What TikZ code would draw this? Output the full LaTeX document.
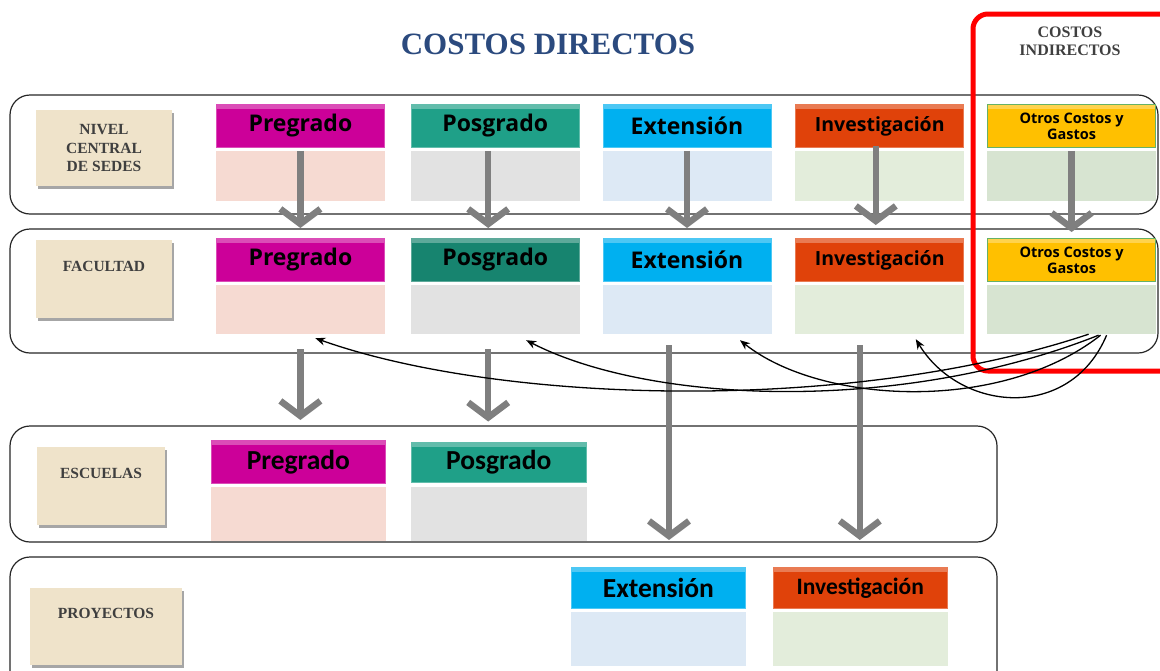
\documentclass[tikz,border=0pt]{standalone}
\usepackage{fontspec}
\setmainfont{Liberation Serif}
\newfontfamily\hdfont{Open Sans}
\newfontfamily\cbfont{Carlito}
\usetikzlibrary{positioning,arrows.meta,shadows}

\definecolor{ttlC}{HTML}{2B4A7E}
\definecolor{lblC}{HTML}{EFE3CA}
\definecolor{lblT}{HTML}{3F3F3F}
\definecolor{arrC}{HTML}{7F7F7F}
\definecolor{pregC}{HTML}{CC0099}
\definecolor{pregB}{HTML}{F6DAD2}
\definecolor{posC}{HTML}{1FA088}
\definecolor{posD}{HTML}{17846F}
\definecolor{posB}{HTML}{E2E2E2}
\definecolor{extC}{HTML}{00B0F0}
\definecolor{extB}{HTML}{DDE9F5}
\definecolor{invC}{HTML}{E0420A}
\definecolor{invB}{HTML}{E3EDDB}
\definecolor{otrC}{HTML}{FFC000}
\definecolor{otrB}{HTML}{D7E4D1}

\begin{document}
\begin{tikzpicture}[x=1pt,y=-1pt,
  frame/.style={draw=black!85, line width=1.2pt, rounded corners=20pt},
  lvl/.style={fill=lblC, text=lblT, align=center, inner sep=0pt,
    font=\bfseries\fontsize{15.5}{18.5}\selectfont,
    drop shadow={shadow xshift=2pt, shadow yshift=-3pt, opacity=.35, fill=black}},
  hd/.style={fill=#1, draw=#1!70!white, line width=.8pt, minimum width=168pt,
    minimum height=43pt, inner sep=0pt, font=\hdfont\bfseries\fontsize{23}{26}\selectfont,
    path picture={\fill[white, opacity=.3] (path picture bounding box.north west)
      rectangle ([yshift=-5pt]path picture bounding box.north east);}},
  bd/.style={fill=#1, minimum width=169pt, minimum height=50pt, inner sep=0pt},
  flow/.style={draw=arrC, line width=6.5pt, -{Straight Barb[length=15pt,width=40pt]}},
  back/.style={draw=black, line width=1.3pt, -{Stealth[length=10pt,width=8pt]}}]
\useasboundingbox (0,0) rectangle (1160,670);

% titulos
\node[font=\bfseries\fontsize{31}{34}\selectfont, text=ttlC] (ttl) at (548,44) {COSTOS DIRECTOS};
\node[font=\bfseries\fontsize{16}{18}\selectfont, text=lblT, align=center] (ind) at (1070,41) {COSTOS\\INDIRECTOS};

% marcos de cada nivel
\draw[frame] (10,95) rectangle (1158,214);
\draw[frame] (10,229) rectangle (1158,353);
\draw[frame] (10,426) rectangle (997,542);
\draw[frame] (10,557) rectangle (997,690);
\draw[red, line width=5pt, rounded corners=15pt] (973,14) rectangle (1190,371);

% niveles
\node[lvl, minimum width=136pt, minimum height=76pt] (sede) at (104,148) {NIVEL\\CENTRAL\\DE SEDES};
\node[lvl, minimum width=136pt, minimum height=78pt] (facu) at (104,279) {FACULTAD\\[6pt]};
\node[lvl, minimum width=128pt, minimum height=78pt] (escu) at (101,486) {ESCUELAS\\[6pt]};
\node[lvl, minimum width=152pt, minimum height=77pt] (proy) at (106,626) {PROYECTOS\\[6pt]};

% nivel central
\node[hd=pregC, anchor=north west] (pre1) at (216,104) {Pregrado};
\node[hd=posC, right=26pt of pre1] (pos1) {Posgrado};
\node[hd=extC, right=23pt of pos1] (ext1) {Extensión};
\node[hd=invC, right=24pt of ext1, font=\hdfont\bfseries\fontsize{19.5}{22}\selectfont] (inv1) {Investigación};
\node[hd=otrC, draw=green!50!black!60, right=23pt of inv1, align=center,
  font=\hdfont\bfseries\fontsize{14.5}{16}\selectfont] (otr1) {Otros Costos y\\Gastos};
\node[bd=pregB, below=3pt of pre1] (pre1b) {};
\node[bd=posB, below=3pt of pos1] (pos1b) {};
\node[bd=extB, below=3pt of ext1] (ext1b) {};
\node[bd=invB, below=3pt of inv1] (inv1b) {};
\node[bd=otrB, below=3pt of otr1] (otr1b) {};

% facultad
\node[hd=pregC, anchor=north west] (pre2) at (216,238) {Pregrado};
\node[hd=posD, right=26pt of pre2] (pos2) {Posgrado};
\node[hd=extC, right=23pt of pos2] (ext2) {Extensión};
\node[hd=invC, right=24pt of ext2, font=\hdfont\bfseries\fontsize{19.5}{22}\selectfont] (inv2) {Investigación};
\node[hd=otrC, draw=green!50!black!60, right=23pt of inv2, align=center,
  font=\hdfont\bfseries\fontsize{14.5}{16}\selectfont] (otr2) {Otros Costos y\\Gastos};
\node[bd=pregB, below=3pt of pre2, minimum height=49pt] (pre2b) {};
\node[bd=posB, below=3pt of pos2, minimum height=49pt] (pos2b) {};
\node[bd=extB, below=3pt of ext2, minimum height=49pt] (ext2b) {};
\node[bd=invB, below=3pt of inv2, minimum height=49pt] (inv2b) {};
\node[bd=otrB, below=3pt of otr2, minimum height=49pt] (otr2b) {};

% escuelas
\node[hd=pregC, anchor=north west, minimum width=174pt, font=\cbfont\bfseries\fontsize{27.5}{30}\selectfont] (pre3) at (211,440) {Pregrado};
\node[hd=posC, right=25pt of pre3, minimum width=175pt, minimum height=40pt, font=\cbfont\bfseries\fontsize{27.5}{30}\selectfont] (pos3) {Posgrado};
\node[bd=pregB, below=3pt of pre3, minimum width=175pt, minimum height=54pt] (pre3b) {};
\node[bd=posB, below=4pt of pos3, minimum width=176pt, minimum height=54pt] (pos3b) {};

% proyectos
\node[hd=extC, anchor=north west, minimum width=174pt, minimum height=41pt, font=\cbfont\bfseries\fontsize{27.5}{30}\selectfont] (ext4) at (571,567) {Extensión};
\node[hd=invC, right=27pt of ext4, minimum width=174pt, minimum height=41pt, font=\cbfont\bfseries\fontsize{23.5}{26}\selectfont] (inv4) {Investigación};
\node[bd=extB, below=3pt of ext4, minimum width=175pt, minimum height=54pt] (ext4b) {};
\node[bd=invB, below=3pt of inv4, minimum width=175pt, minimum height=54pt] (inv4b) {};

% flujos directos
\draw[flow] (pre1b.north) -- ([yshift=10pt]pre2.north);
\draw[flow] ([xshift=-7pt]pos1b.north) -- ([xshift=-7pt,yshift=10pt]pos2.north);
\draw[flow] (ext1b.north) -- ([yshift=10pt]ext2.north);
\draw[flow] ([xshift=-4pt,yshift=5pt]inv1b.north) -- ([xshift=-4pt,yshift=13pt]inv2.north);
\draw[flow] (otr1b.north) -- ([yshift=6pt]otr2.north);
\coordinate (p2) at ([yshift=-15pt]pre2b.south);
\coordinate (q2) at ([xshift=-7pt,yshift=-15pt]pos2b.south);
\draw[flow] (p2) -- (p2 |- pre3.north) [shorten >=20pt];
\draw[flow] (q2) -- (q2 |- pos3.north) [shorten >=20pt];
\coordinate (e2) at ([xshift=-18pt,yshift=-11pt]ext2b.south);
\coordinate (i2) at ([xshift=-20pt,yshift=-11pt]inv2b.south);
\draw[flow, shorten >=27pt] (e2) -- (e2 |- ext4.north);
\draw[flow, shorten >=27pt] (i2) -- (i2 |- inv4.north);

% reparto de costos indirectos
\draw[back] ([xshift=17pt]otr2b.south) .. controls (850,414) and (500,404) .. ([xshift=15pt,yshift=-4pt]pre2b.south);
\draw[back] ([xshift=27pt,yshift=-1pt]otr2b.south) .. controls (900,414) and (650,404) .. ([xshift=31pt,yshift=-6pt]pos2b.south);
\draw[back] ([xshift=29pt,yshift=-1pt]otr2b.south) .. controls (1000,414) and (820,404) .. ([xshift=53pt,yshift=-6pt]ext2b.south);
\draw[back] ([xshift=35pt,yshift=-1pt]otr2b.south) .. controls (1070,422) and (960,412) .. ([xshift=36pt,yshift=-5pt]inv2b.south);
\end{tikzpicture}
\end{document}
